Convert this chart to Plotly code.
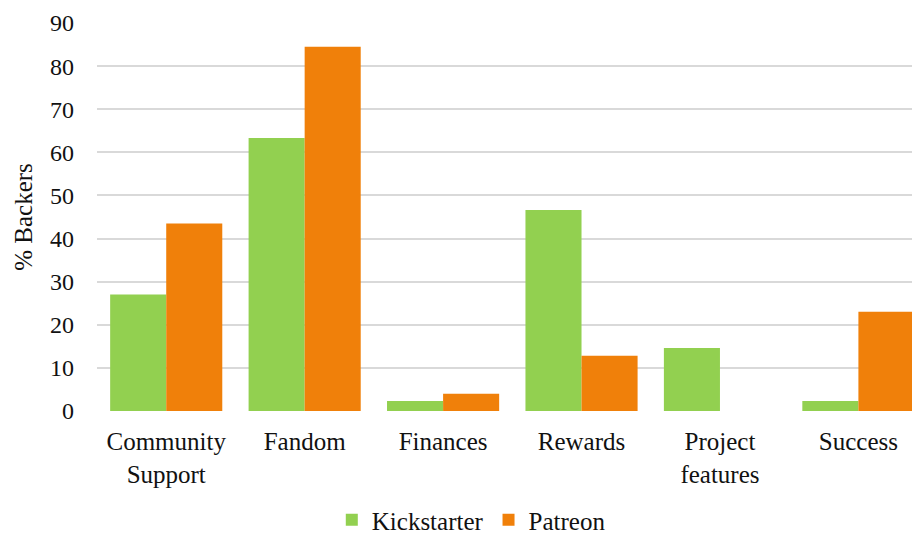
import plotly.graph_objects as go

categories = ["Community<br>Support", "Fandom", "Finances", "Rewards", "Project<br>features", "Success"]
kickstarter = [27.0, 63.3, 2.3, 46.6, 14.6, 2.3]
patreon = [43.5, 84.5, 4.0, 12.8, 0.0, 23.0]
y_ticks = [0, 10, 20, 30, 40, 50, 60, 70, 80, 90]

FONT = "Liberation Serif"

fig = go.Figure()
fig.add_trace(go.Bar(x=categories, y=kickstarter, name="Kickstarter",
                     marker=dict(color="#92D050", line=dict(width=0))))
fig.add_trace(go.Bar(x=categories, y=patreon, name="Patreon",
                     marker=dict(color="#F0800A", line=dict(width=0))))

fig.update_layout(
    width=912, height=526,
    margin=dict(l=89, r=0, t=15, b=123, autoexpand=False),
    paper_bgcolor="white", plot_bgcolor="white",
    barmode="group", bargap=0.19, bargroupgap=0,
    font=dict(family=FONT, size=24, color="#111111"),
    legend=dict(orientation="h", xref="container", x=0.508, xanchor="center",
                y=-0.281, yanchor="middle",
                font=dict(size=25), itemwidth=30, traceorder="normal"),
    showlegend=True,
)
fig.update_xaxes(showline=False, ticks="", automargin=False, range=[-0.5, 5.445],
                 tickfont=dict(size=25), ticklabelstandoff=13)
fig.update_yaxes(range=[0, 90], tickvals=y_ticks, showgrid=True, gridcolor="#D9D9D9",
                 gridwidth=2, zeroline=False, ticks="", tickfont=dict(size=24),
                 ticklabelstandoff=22, automargin=False,
                 title=dict(text="% Backers", font=dict(size=25), standoff=10))

fig.write_html("out.html")
